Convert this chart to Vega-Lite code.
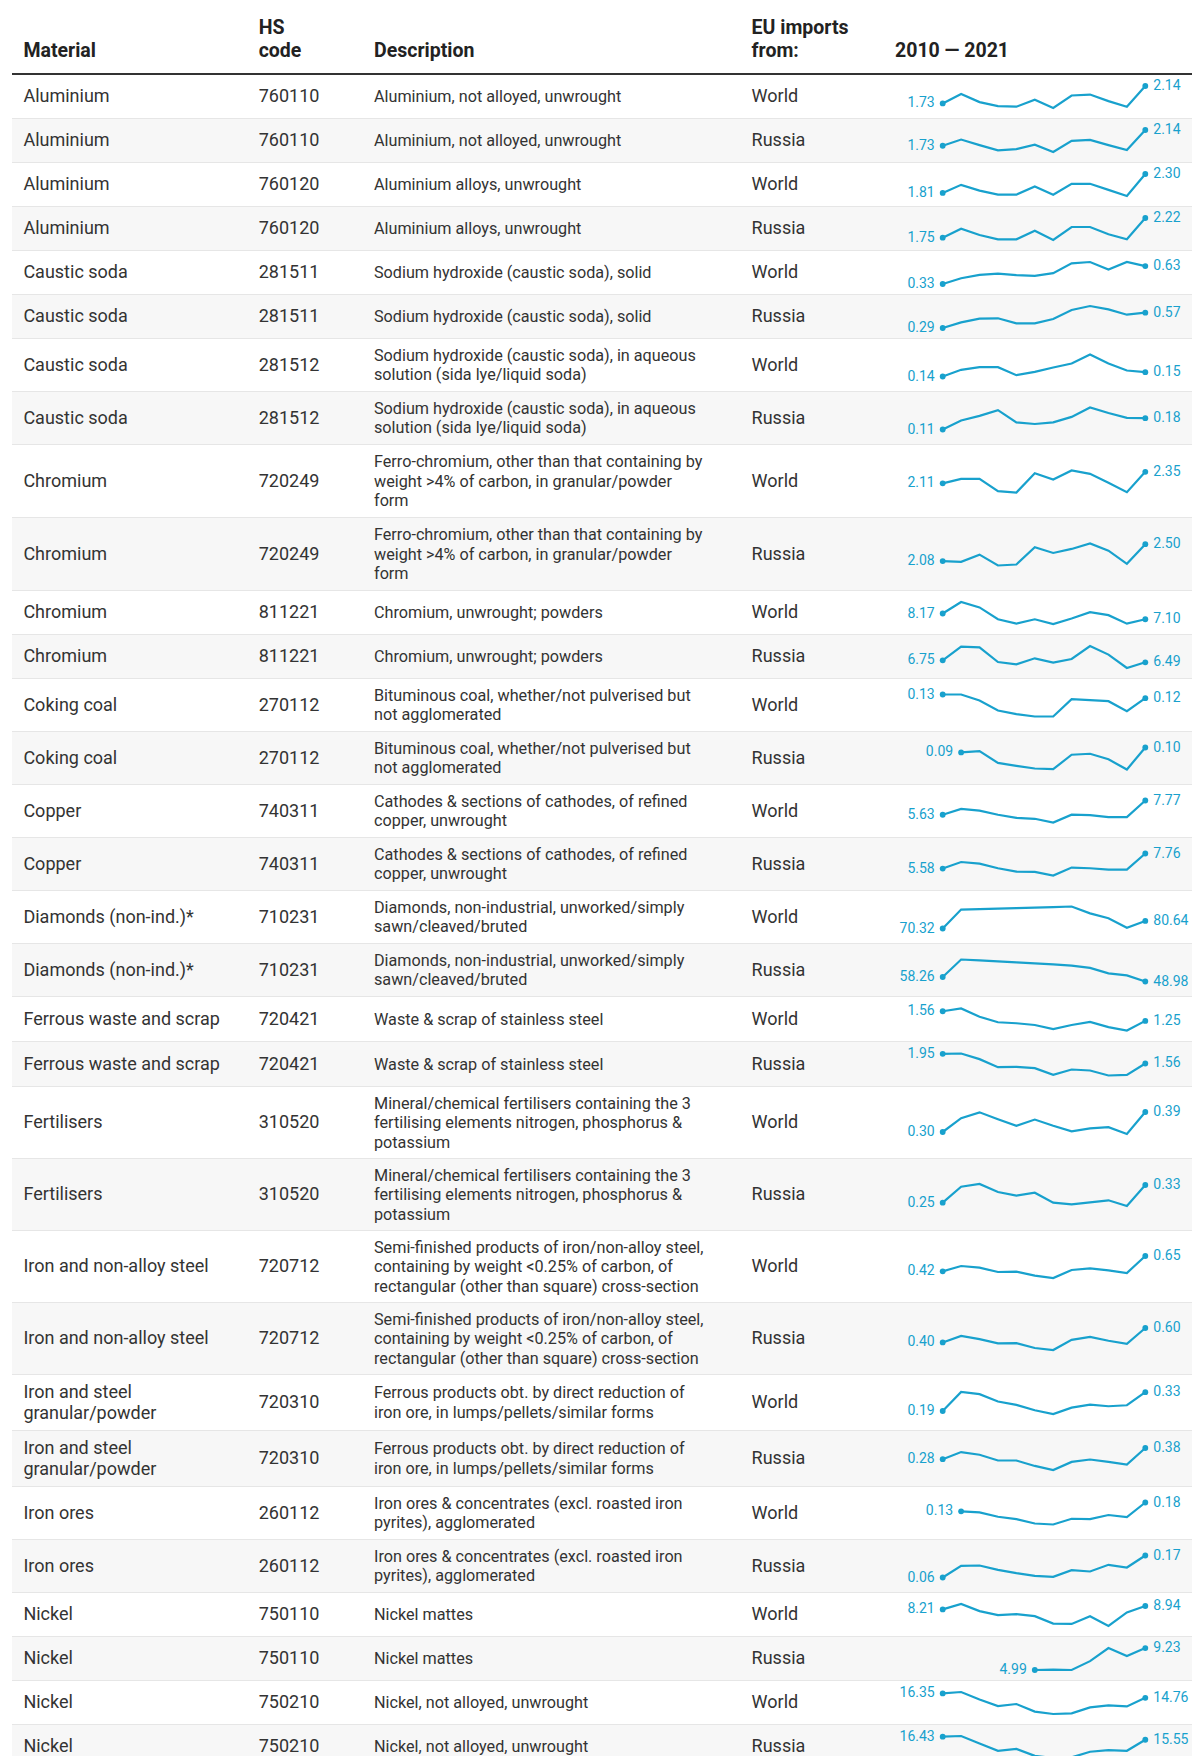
{"$schema":"https://vega.github.io/schema/vega-lite/v6.json","padding":{"left":11,"top":0,"right":0,"bottom":0},"background":"white","spacing":0,"resolve":{"scale":{"y":"independent"}},
"datasets":{"header":[{"c":0,"t":"\nMaterial"},{"c":1,"t":"HS\ncode"},{"c":2,"t":"\nDescription"},{"c":3,"t":"EU imports\nfrom:"},{"c":4,"t":"\n2010 — 2021"}],
"table":[
{"r":1,"material":"Aluminium","hs":"760110","desc":"Aluminium, not alloyed, unwrought","from":"World"},
{"r":2,"material":"Aluminium","hs":"760110","desc":"Aluminium, not alloyed, unwrought","from":"Russia"},
{"r":3,"material":"Aluminium","hs":"760120","desc":"Aluminium alloys, unwrought","from":"World"},
{"r":4,"material":"Aluminium","hs":"760120","desc":"Aluminium alloys, unwrought","from":"Russia"},
{"r":5,"material":"Caustic soda","hs":"281511","desc":"Sodium hydroxide (caustic soda), solid","from":"World"},
{"r":6,"material":"Caustic soda","hs":"281511","desc":"Sodium hydroxide (caustic soda), solid","from":"Russia"},
{"r":7,"material":"Caustic soda","hs":"281512","desc":"Sodium hydroxide (caustic soda), in aqueous\nsolution (sida lye/liquid soda)","from":"World"},
{"r":8,"material":"Caustic soda","hs":"281512","desc":"Sodium hydroxide (caustic soda), in aqueous\nsolution (sida lye/liquid soda)","from":"Russia"},
{"r":9,"material":"Chromium","hs":"720249","desc":"Ferro-chromium, other than that containing by\nweight >4% of carbon, in granular/powder\nform","from":"World"},
{"r":10,"material":"Chromium","hs":"720249","desc":"Ferro-chromium, other than that containing by\nweight >4% of carbon, in granular/powder\nform","from":"Russia"},
{"r":11,"material":"Chromium","hs":"811221","desc":"Chromium, unwrought; powders","from":"World"},
{"r":12,"material":"Chromium","hs":"811221","desc":"Chromium, unwrought; powders","from":"Russia"},
{"r":13,"material":"Coking coal","hs":"270112","desc":"Bituminous coal, whether/not pulverised but\nnot agglomerated","from":"World"},
{"r":14,"material":"Coking coal","hs":"270112","desc":"Bituminous coal, whether/not pulverised but\nnot agglomerated","from":"Russia"},
{"r":15,"material":"Copper","hs":"740311","desc":"Cathodes & sections of cathodes, of refined\ncopper, unwrought","from":"World"},
{"r":16,"material":"Copper","hs":"740311","desc":"Cathodes & sections of cathodes, of refined\ncopper, unwrought","from":"Russia"},
{"r":17,"material":"Diamonds (non-ind.)*","hs":"710231","desc":"Diamonds, non-industrial, unworked/simply\nsawn/cleaved/bruted","from":"World"},
{"r":18,"material":"Diamonds (non-ind.)*","hs":"710231","desc":"Diamonds, non-industrial, unworked/simply\nsawn/cleaved/bruted","from":"Russia"},
{"r":19,"material":"Ferrous waste and scrap","hs":"720421","desc":"Waste & scrap of stainless steel","from":"World"},
{"r":20,"material":"Ferrous waste and scrap","hs":"720421","desc":"Waste & scrap of stainless steel","from":"Russia"},
{"r":21,"material":"Fertilisers","hs":"310520","desc":"Mineral/chemical fertilisers containing the 3\nfertilising elements nitrogen, phosphorus &\npotassium","from":"World"},
{"r":22,"material":"Fertilisers","hs":"310520","desc":"Mineral/chemical fertilisers containing the 3\nfertilising elements nitrogen, phosphorus &\npotassium","from":"Russia"},
{"r":23,"material":"Iron and non-alloy steel","hs":"720712","desc":"Semi-finished products of iron/non-alloy steel,\ncontaining by weight <0.25% of carbon, of\nrectangular (other than square) cross-section","from":"World"},
{"r":24,"material":"Iron and non-alloy steel","hs":"720712","desc":"Semi-finished products of iron/non-alloy steel,\ncontaining by weight <0.25% of carbon, of\nrectangular (other than square) cross-section","from":"Russia"},
{"r":25,"material":"Iron and steel\ngranular/powder","hs":"720310","desc":"Ferrous products obt. by direct reduction of\niron ore, in lumps/pellets/similar forms","from":"World"},
{"r":26,"material":"Iron and steel\ngranular/powder","hs":"720310","desc":"Ferrous products obt. by direct reduction of\niron ore, in lumps/pellets/similar forms","from":"Russia"},
{"r":27,"material":"Iron ores","hs":"260112","desc":"Iron ores & concentrates (excl. roasted iron\npyrites), agglomerated","from":"World"},
{"r":28,"material":"Iron ores","hs":"260112","desc":"Iron ores & concentrates (excl. roasted iron\npyrites), agglomerated","from":"Russia"},
{"r":29,"material":"Nickel","hs":"750110","desc":"Nickel mattes","from":"World"},
{"r":30,"material":"Nickel","hs":"750110","desc":"Nickel mattes","from":"Russia"},
{"r":31,"material":"Nickel","hs":"750210","desc":"Nickel, not alloyed, unwrought","from":"World"},
{"r":32,"material":"Nickel","hs":"750210","desc":"Nickel, not alloyed, unwrought","from":"Russia"},
{"r":1,"year":2010,"v":1.73},{"r":1,"year":2011,"v":1.954},{"r":1,"year":2012,"v":1.761},{"r":1,"year":2013,"v":1.668},{"r":1,"year":2014,"v":1.653},{"r":1,"year":2015,"v":1.815},{"r":1,"year":2016,"v":1.622},{"r":1,"year":2017,"v":1.916},{"r":1,"year":2018,"v":1.939},{"r":1,"year":2019,"v":1.784},{"r":1,"year":2020,"v":1.653},{"r":1,"year":2021,"v":2.14},
{"r":2,"year":2010,"v":1.73},{"r":2,"year":2011,"v":1.892},{"r":2,"year":2012,"v":1.747},{"r":2,"year":2013,"v":1.61},{"r":2,"year":2014,"v":1.645},{"r":2,"year":2015,"v":1.756},{"r":2,"year":2016,"v":1.568},{"r":2,"year":2017,"v":1.858},{"r":2,"year":2018,"v":1.884},{"r":2,"year":2019,"v":1.747},{"r":2,"year":2020,"v":1.619},{"r":2,"year":2021,"v":2.14},
{"r":3,"year":2010,"v":1.81},{"r":3,"year":2011,"v":2.02},{"r":3,"year":2012,"v":1.871},{"r":3,"year":2013,"v":1.766},{"r":3,"year":2014,"v":1.766},{"r":3,"year":2015,"v":1.976},{"r":3,"year":2016,"v":1.766},{"r":3,"year":2017,"v":2.046},{"r":3,"year":2018,"v":2.046},{"r":3,"year":2019,"v":1.889},{"r":3,"year":2020,"v":1.731},{"r":3,"year":2021,"v":2.3},
{"r":4,"year":2010,"v":1.75},{"r":4,"year":2011,"v":1.965},{"r":4,"year":2012,"v":1.814},{"r":4,"year":2013,"v":1.71},{"r":4,"year":2014,"v":1.71},{"r":4,"year":2015,"v":1.917},{"r":4,"year":2016,"v":1.694},{"r":4,"year":2017,"v":2.005},{"r":4,"year":2018,"v":2.005},{"r":4,"year":2019,"v":1.83},{"r":4,"year":2020,"v":1.71},{"r":4,"year":2021,"v":2.22},
{"r":5,"year":2010,"v":0.33},{"r":5,"year":2011,"v":0.426},{"r":5,"year":2012,"v":0.483},{"r":5,"year":2013,"v":0.505},{"r":5,"year":2014,"v":0.477},{"r":5,"year":2015,"v":0.466},{"r":5,"year":2016,"v":0.511},{"r":5,"year":2017,"v":0.675},{"r":5,"year":2018,"v":0.698},{"r":5,"year":2019,"v":0.573},{"r":5,"year":2020,"v":0.698},{"r":5,"year":2021,"v":0.63},
{"r":6,"year":2010,"v":0.29},{"r":6,"year":2011,"v":0.393},{"r":6,"year":2012,"v":0.46},{"r":6,"year":2013,"v":0.467},{"r":6,"year":2014,"v":0.375},{"r":6,"year":2015,"v":0.375},{"r":6,"year":2016,"v":0.454},{"r":6,"year":2017,"v":0.619},{"r":6,"year":2018,"v":0.692},{"r":6,"year":2019,"v":0.631},{"r":6,"year":2020,"v":0.533},{"r":6,"year":2021,"v":0.57},
{"r":7,"year":2010,"v":0.14},{"r":7,"year":2011,"v":0.1567},{"r":7,"year":2012,"v":0.1633},{"r":7,"year":2013,"v":0.1633},{"r":7,"year":2014,"v":0.1433},{"r":7,"year":2015,"v":0.1517},{"r":7,"year":2016,"v":0.1625},{"r":7,"year":2017,"v":0.1725},{"r":7,"year":2018,"v":0.195},{"r":7,"year":2019,"v":0.1725},{"r":7,"year":2020,"v":0.155},{"r":7,"year":2021,"v":0.1508},
{"r":8,"year":2010,"v":0.11},{"r":8,"year":2011,"v":0.166},{"r":8,"year":2012,"v":0.194},{"r":8,"year":2013,"v":0.23},{"r":8,"year":2014,"v":0.154},{"r":8,"year":2015,"v":0.144},{"r":8,"year":2016,"v":0.154},{"r":8,"year":2017,"v":0.188},{"r":8,"year":2018,"v":0.246},{"r":8,"year":2019,"v":0.212},{"r":8,"year":2020,"v":0.182},{"r":8,"year":2021,"v":0.18},
{"r":9,"year":2010,"v":2.11},{"r":9,"year":2011,"v":2.202},{"r":9,"year":2012,"v":2.202},{"r":9,"year":2013,"v":1.948},{"r":9,"year":2014,"v":1.919},{"r":9,"year":2015,"v":2.322},{"r":9,"year":2016,"v":2.188},{"r":9,"year":2017,"v":2.378},{"r":9,"year":2018,"v":2.308},{"r":9,"year":2019,"v":2.124},{"r":9,"year":2020,"v":1.926},{"r":9,"year":2021,"v":2.35},
{"r":10,"year":2010,"v":2.08},{"r":10,"year":2011,"v":2.063},{"r":10,"year":2012,"v":2.24},{"r":10,"year":2013,"v":1.971},{"r":10,"year":2014,"v":1.996},{"r":10,"year":2015,"v":2.424},{"r":10,"year":2016,"v":2.282},{"r":10,"year":2017,"v":2.382},{"r":10,"year":2018,"v":2.517},{"r":10,"year":2019,"v":2.34},{"r":10,"year":2020,"v":2.013},{"r":10,"year":2021,"v":2.5},
{"r":11,"year":2010,"v":8.17},{"r":11,"year":2011,"v":10.31},{"r":11,"year":2012,"v":9.3},{"r":11,"year":2013,"v":7.1},{"r":11,"year":2014,"v":6.28},{"r":11,"year":2015,"v":7.1},{"r":11,"year":2016,"v":6.22},{"r":11,"year":2017,"v":7.23},{"r":11,"year":2018,"v":8.42},{"r":11,"year":2019,"v":7.86},{"r":11,"year":2020,"v":6.28},{"r":11,"year":2021,"v":7.1},
{"r":12,"year":2010,"v":6.75},{"r":12,"year":2011,"v":8.53},{"r":12,"year":2012,"v":8.44},{"r":12,"year":2013,"v":6.53},{"r":12,"year":2014,"v":6.23},{"r":12,"year":2015,"v":7.01},{"r":12,"year":2016,"v":6.45},{"r":12,"year":2017,"v":6.92},{"r":12,"year":2018,"v":8.61},{"r":12,"year":2019,"v":7.49},{"r":12,"year":2020,"v":5.75},{"r":12,"year":2021,"v":6.49},
{"r":13,"year":2010,"v":0.132},{"r":13,"year":2011,"v":0.132},{"r":13,"year":2012,"v":0.1156},{"r":13,"year":2013,"v":0.0884},{"r":13,"year":2014,"v":0.0784},{"r":13,"year":2015,"v":0.072},{"r":13,"year":2016,"v":0.072},{"r":13,"year":2017,"v":0.1193},{"r":13,"year":2018,"v":0.1165},{"r":13,"year":2019,"v":0.1138},{"r":13,"year":2020,"v":0.0865},{"r":13,"year":2021,"v":0.122},
{"r":14,"year":2011,"v":0.09},{"r":14,"year":2012,"v":0.0927},{"r":14,"year":2013,"v":0.0687},{"r":14,"year":2014,"v":0.0627},{"r":14,"year":2015,"v":0.0573},{"r":14,"year":2016,"v":0.056},{"r":14,"year":2017,"v":0.0853},{"r":14,"year":2018,"v":0.0873},{"r":14,"year":2019,"v":0.076},{"r":14,"year":2020,"v":0.0553},{"r":14,"year":2021,"v":0.1},
{"r":15,"year":2010,"v":5.63},{"r":15,"year":2011,"v":6.5},{"r":15,"year":2012,"v":6.24},{"r":15,"year":2013,"v":5.63},{"r":15,"year":2014,"v":5.17},{"r":15,"year":2015,"v":5.02},{"r":15,"year":2016,"v":4.46},{"r":15,"year":2017,"v":5.63},{"r":15,"year":2018,"v":5.58},{"r":15,"year":2019,"v":5.27},{"r":15,"year":2020,"v":5.27},{"r":15,"year":2021,"v":7.77},
{"r":16,"year":2010,"v":5.58},{"r":16,"year":2011,"v":6.53},{"r":16,"year":2012,"v":6.29},{"r":16,"year":2013,"v":5.63},{"r":16,"year":2014,"v":5.15},{"r":16,"year":2015,"v":5.11},{"r":16,"year":2016,"v":4.58},{"r":16,"year":2017,"v":5.72},{"r":16,"year":2018,"v":5.63},{"r":16,"year":2019,"v":5.44},{"r":16,"year":2020,"v":5.44},{"r":16,"year":2021,"v":7.76},
{"r":17,"year":2010,"v":70.32},{"r":17,"year":2011,"v":96.1},{"r":17,"year":2012,"v":96.6},{"r":17,"year":2013,"v":97.5},{"r":17,"year":2014,"v":98},{"r":17,"year":2015,"v":98.9},{"r":17,"year":2016,"v":99.4},{"r":17,"year":2017,"v":100.3},{"r":17,"year":2018,"v":90.96},{"r":17,"year":2019,"v":84.4},{"r":17,"year":2020,"v":71.26},{"r":17,"year":2021,"v":80.64},
{"r":18,"year":2010,"v":58.26},{"r":18,"year":2011,"v":94.06},{"r":18,"year":2012,"v":92.07},{"r":18,"year":2013,"v":90.08},{"r":18,"year":2014,"v":88.1},{"r":18,"year":2015,"v":86.1},{"r":18,"year":2016,"v":84.1},{"r":18,"year":2017,"v":81.5},{"r":18,"year":2018,"v":76.8},{"r":18,"year":2019,"v":65.6},{"r":18,"year":2020,"v":61.6},{"r":18,"year":2021,"v":48.98},
{"r":19,"year":2010,"v":1.56},{"r":19,"year":2011,"v":1.649},{"r":19,"year":2012,"v":1.383},{"r":19,"year":2013,"v":1.206},{"r":19,"year":2014,"v":1.173},{"r":19,"year":2015,"v":1.117},{"r":19,"year":2016,"v":0.984},{"r":19,"year":2017,"v":1.117},{"r":19,"year":2018,"v":1.217},{"r":19,"year":2019,"v":1.051},{"r":19,"year":2020,"v":0.94},{"r":19,"year":2021,"v":1.25},
{"r":20,"year":2010,"v":1.95},{"r":20,"year":2011,"v":1.963},{"r":20,"year":2012,"v":1.735},{"r":20,"year":2013,"v":1.412},{"r":20,"year":2014,"v":1.425},{"r":20,"year":2015,"v":1.372},{"r":20,"year":2016,"v":1.103},{"r":20,"year":2017,"v":1.318},{"r":20,"year":2018,"v":1.277},{"r":20,"year":2019,"v":1.076},{"r":20,"year":2020,"v":1.103},{"r":20,"year":2021,"v":1.56},
{"r":21,"year":2010,"v":0.3},{"r":21,"year":2011,"v":0.362},{"r":21,"year":2012,"v":0.3885},{"r":21,"year":2013,"v":0.3575},{"r":21,"year":2014,"v":0.328},{"r":21,"year":2015,"v":0.356},{"r":21,"year":2016,"v":0.328},{"r":21,"year":2017,"v":0.303},{"r":21,"year":2018,"v":0.316},{"r":21,"year":2019,"v":0.322},{"r":21,"year":2020,"v":0.291},{"r":21,"year":2021,"v":0.39},
{"r":22,"year":2010,"v":0.25},{"r":22,"year":2011,"v":0.3224},{"r":22,"year":2012,"v":0.3345},{"r":22,"year":2013,"v":0.2983},{"r":22,"year":2014,"v":0.2817},{"r":22,"year":2015,"v":0.2953},{"r":22,"year":2016,"v":0.25},{"r":22,"year":2017,"v":0.2425},{"r":22,"year":2018,"v":0.2515},{"r":22,"year":2019,"v":0.2606},{"r":22,"year":2020,"v":0.2349},{"r":22,"year":2021,"v":0.33},
{"r":23,"year":2010,"v":0.42},{"r":23,"year":2011,"v":0.5},{"r":23,"year":2012,"v":0.475},{"r":23,"year":2013,"v":0.41},{"r":23,"year":2014,"v":0.415},{"r":23,"year":2015,"v":0.355},{"r":23,"year":2016,"v":0.32},{"r":23,"year":2017,"v":0.44},{"r":23,"year":2018,"v":0.465},{"r":23,"year":2019,"v":0.435},{"r":23,"year":2020,"v":0.395},{"r":23,"year":2021,"v":0.65},
{"r":24,"year":2010,"v":0.4},{"r":24,"year":2011,"v":0.491},{"r":24,"year":2012,"v":0.4455},{"r":24,"year":2013,"v":0.386},{"r":24,"year":2014,"v":0.391},{"r":24,"year":2015,"v":0.323},{"r":24,"year":2016,"v":0.295},{"r":24,"year":2017,"v":0.436},{"r":24,"year":2018,"v":0.477},{"r":24,"year":2019,"v":0.423},{"r":24,"year":2020,"v":0.382},{"r":24,"year":2021,"v":0.6},
{"r":25,"year":2010,"v":0.19},{"r":25,"year":2011,"v":0.331},{"r":25,"year":2012,"v":0.315},{"r":25,"year":2013,"v":0.26},{"r":25,"year":2014,"v":0.235},{"r":25,"year":2015,"v":0.195},{"r":25,"year":2016,"v":0.1675},{"r":25,"year":2017,"v":0.215},{"r":25,"year":2018,"v":0.2375},{"r":25,"year":2019,"v":0.225},{"r":25,"year":2020,"v":0.2325},{"r":25,"year":2021,"v":0.33},
{"r":26,"year":2010,"v":0.28},{"r":26,"year":2011,"v":0.3436},{"r":26,"year":2012,"v":0.3194},{"r":26,"year":2013,"v":0.2679},{"r":26,"year":2014,"v":0.2679},{"r":26,"year":2015,"v":0.2194},{"r":26,"year":2016,"v":0.183},{"r":26,"year":2017,"v":0.2558},{"r":26,"year":2018,"v":0.277},{"r":26,"year":2019,"v":0.2558},{"r":26,"year":2020,"v":0.2315},{"r":26,"year":2021,"v":0.38},
{"r":27,"year":2011,"v":0.13},{"r":27,"year":2012,"v":0.1242},{"r":27,"year":2013,"v":0.0992},{"r":27,"year":2014,"v":0.0858},{"r":27,"year":2015,"v":0.0608},{"r":27,"year":2016,"v":0.055},{"r":27,"year":2017,"v":0.0877},{"r":27,"year":2018,"v":0.0858},{"r":27,"year":2019,"v":0.1088},{"r":27,"year":2020,"v":0.0973},{"r":27,"year":2021,"v":0.18},
{"r":28,"year":2010,"v":0.06},{"r":28,"year":2011,"v":0.1183},{"r":28,"year":2012,"v":0.12},{"r":28,"year":2013,"v":0.0983},{"r":28,"year":2014,"v":0.0817},{"r":28,"year":2015,"v":0.0683},{"r":28,"year":2016,"v":0.0633},{"r":28,"year":2017,"v":0.0967},{"r":28,"year":2018,"v":0.09},{"r":28,"year":2019,"v":0.1233},{"r":28,"year":2020,"v":0.11},{"r":28,"year":2021,"v":0.17},
{"r":29,"year":2010,"v":8.21},{"r":29,"year":2011,"v":9.378},{"r":29,"year":2012,"v":7.845},{"r":29,"year":2013,"v":6.969},{"r":29,"year":2014,"v":7.188},{"r":29,"year":2015,"v":6.75},{"r":29,"year":2016,"v":5.144},{"r":29,"year":2017,"v":5.071},{"r":29,"year":2018,"v":6.75},{"r":29,"year":2019,"v":4.633},{"r":29,"year":2020,"v":7.553},{"r":29,"year":2021,"v":8.94},
{"r":30,"year":2015,"v":4.99},{"r":30,"year":2016,"v":5.06},{"r":30,"year":2017,"v":4.99},{"r":30,"year":2018,"v":6.71},{"r":30,"year":2019,"v":9.25},{"r":30,"year":2020,"v":7.71},{"r":30,"year":2021,"v":9.23},
{"r":31,"year":2010,"v":16.35},{"r":31,"year":2011,"v":16.84},{"r":31,"year":2012,"v":14.15},{"r":31,"year":2013,"v":11.82},{"r":31,"year":2014,"v":12.56},{"r":31,"year":2015,"v":9.87},{"r":31,"year":2016,"v":9.01},{"r":31,"year":2017,"v":9.26},{"r":31,"year":2018,"v":11.34},{"r":31,"year":2019,"v":12.07},{"r":31,"year":2020,"v":11.7},{"r":31,"year":2021,"v":14.76},
{"r":32,"year":2010,"v":16.43},{"r":32,"year":2011,"v":16.61},{"r":32,"year":2012,"v":14.49},{"r":32,"year":2013,"v":12.47},{"r":32,"year":2014,"v":13},{"r":32,"year":2015,"v":11.06},{"r":32,"year":2016,"v":10.45},{"r":32,"year":2017,"v":10.62},{"r":32,"year":2018,"v":12.21},{"r":32,"year":2019,"v":12.65},{"r":32,"year":2020,"v":12.47},{"r":32,"year":2021,"v":15.55}
]},
"data":{"name":"table"},
"vconcat":[
{"data":{"name":"header"},"width":1181,"height":75,"layer":[
{"mark":{"type":"text","fontWeight":"bold","fontSize":19.5,"baseline":"bottom","lineHeight":23,"dy":0,"color":"#222222"},"encoding":{"x":{"field":"c","type":"quantitative","scale":{"domain":[0,1,2,3,4,2010,2021],"range":[11.4,246.7,362,739.6,883,930.7,1133.3],"nice":false,"zero":false},"axis":null},"text":{"field":"t"}}},
{"mark":{"type":"rule","color":"#333333","strokeWidth":2,"yOffset":-1},"encoding":{"y":{"value":"height"}}}
]},
{"transform":[{"filter":"datum.r>=1&&datum.r<=6"}],"facet":{"row":{"field":"r","type":"ordinal","header":null}},"spacing":0,"bounds":"flush","resolve":{"scale":{"y":"independent"}},"spec":{"width":1181,"height":44,"layer":[
{"transform":[{"filter":"isValid(datum.hs)"}],"layer":[
{"mark":{"type":"rect"},"encoding":{"color":{"field":"r","type":"ordinal","scale":{"domain":[1,2,3,4,5,6,7,8,9,10,11,12,13,14,15,16,17,18,19,20,21,22,23,24,25,26,27,28,29,30,31,32],"range":["#ffffff","#f7f7f7"]},"legend":null}}},
{"mark":{"type":"rule","color":"#e6e6e6","strokeWidth":1,"yOffset":-0.5},"encoding":{"y":{"value":"height"}}},
{"mark":{"type":"text","fontSize":18,"lineHeight":21},"encoding":{"x":{"datum":0,"type":"quantitative","scale":{"domain":[0,1,2,3,4,2010,2021],"range":[11.4,246.7,362,739.6,883,930.7,1133.3],"nice":false,"zero":false},"axis":null},"text":{"field":"material"}}},
{"mark":{"type":"text","fontSize":18},"encoding":{"x":{"datum":1,"type":"quantitative","scale":{"domain":[0,1,2,3,4,2010,2021],"range":[11.4,246.7,362,739.6,883,930.7,1133.3],"nice":false,"zero":false},"axis":null},"text":{"field":"hs"}}},
{"mark":{"type":"text","fontSize":16.2,"lineHeight":19.5},"encoding":{"x":{"datum":2,"type":"quantitative","scale":{"domain":[0,1,2,3,4,2010,2021],"range":[11.4,246.7,362,739.6,883,930.7,1133.3],"nice":false,"zero":false},"axis":null},"text":{"field":"desc"}}},
{"mark":{"type":"text","fontSize":18},"encoding":{"x":{"datum":3,"type":"quantitative","scale":{"domain":[0,1,2,3,4,2010,2021],"range":[11.4,246.7,362,739.6,883,930.7,1133.3],"nice":false,"zero":false},"axis":null},"text":{"field":"from"}}}
]},
{"transform":[{"filter":"isValid(datum.v)"},{"joinaggregate":[{"op":"min","field":"year","as":"y0"},{"op":"max","field":"year","as":"y1"}],"groupby":["r"]}],
"encoding":{"x":{"field":"year","type":"quantitative","scale":{"domain":[0,1,2,3,4,2010,2021],"range":[11.4,246.7,362,739.6,883,930.7,1133.3],"nice":false,"zero":false},"axis":null},"y":{"field":"v","type":"quantitative","scale":{"zero":false,"nice":false,"range":[33,11]},"axis":null}},
"layer":[
{"mark":{"type":"line","color":"#18a1cd","strokeWidth":2.2}},
{"transform":[{"filter":"datum.year==datum.y0||datum.year==datum.y1"}],"mark":{"type":"point","filled":true,"opacity":1,"size":34,"color":"#18a1cd"}},
{"transform":[{"filter":"datum.year==datum.y0"}],"mark":{"type":"text","align":"right","dx":-8,"fontSize":14,"color":"#18a1cd"},"encoding":{"text":{"field":"v","format":".2f"}}},
{"transform":[{"filter":"datum.year==datum.y1"}],"mark":{"type":"text","align":"left","dx":8,"fontSize":14,"color":"#18a1cd"},"encoding":{"text":{"field":"v","format":".2f"}}}
]}
]}},
{"transform":[{"filter":"datum.r>=7&&datum.r<=8"}],"facet":{"row":{"field":"r","type":"ordinal","header":null}},"spacing":0,"bounds":"flush","resolve":{"scale":{"y":"independent"}},"spec":{"width":1181,"height":53,"layer":[
{"transform":[{"filter":"isValid(datum.hs)"}],"layer":[
{"mark":{"type":"rect"},"encoding":{"color":{"field":"r","type":"ordinal","scale":{"domain":[1,2,3,4,5,6,7,8,9,10,11,12,13,14,15,16,17,18,19,20,21,22,23,24,25,26,27,28,29,30,31,32],"range":["#ffffff","#f7f7f7"]},"legend":null}}},
{"mark":{"type":"rule","color":"#e6e6e6","strokeWidth":1,"yOffset":-0.5},"encoding":{"y":{"value":"height"}}},
{"mark":{"type":"text","fontSize":18,"lineHeight":21},"encoding":{"x":{"datum":0,"type":"quantitative","scale":{"domain":[0,1,2,3,4,2010,2021],"range":[11.4,246.7,362,739.6,883,930.7,1133.3],"nice":false,"zero":false},"axis":null},"text":{"field":"material"}}},
{"mark":{"type":"text","fontSize":18},"encoding":{"x":{"datum":1,"type":"quantitative","scale":{"domain":[0,1,2,3,4,2010,2021],"range":[11.4,246.7,362,739.6,883,930.7,1133.3],"nice":false,"zero":false},"axis":null},"text":{"field":"hs"}}},
{"mark":{"type":"text","fontSize":16.2,"lineHeight":19.5,"dy":-9.75},"encoding":{"x":{"datum":2,"type":"quantitative","scale":{"domain":[0,1,2,3,4,2010,2021],"range":[11.4,246.7,362,739.6,883,930.7,1133.3],"nice":false,"zero":false},"axis":null},"text":{"field":"desc"}}},
{"mark":{"type":"text","fontSize":18},"encoding":{"x":{"datum":3,"type":"quantitative","scale":{"domain":[0,1,2,3,4,2010,2021],"range":[11.4,246.7,362,739.6,883,930.7,1133.3],"nice":false,"zero":false},"axis":null},"text":{"field":"from"}}}
]},
{"transform":[{"filter":"isValid(datum.v)"},{"joinaggregate":[{"op":"min","field":"year","as":"y0"},{"op":"max","field":"year","as":"y1"}],"groupby":["r"]}],
"encoding":{"x":{"field":"year","type":"quantitative","scale":{"domain":[0,1,2,3,4,2010,2021],"range":[11.4,246.7,362,739.6,883,930.7,1133.3],"nice":false,"zero":false},"axis":null},"y":{"field":"v","type":"quantitative","scale":{"zero":false,"nice":false,"range":[37.5,15.5]},"axis":null}},
"layer":[
{"mark":{"type":"line","color":"#18a1cd","strokeWidth":2.2}},
{"transform":[{"filter":"datum.year==datum.y0||datum.year==datum.y1"}],"mark":{"type":"point","filled":true,"opacity":1,"size":34,"color":"#18a1cd"}},
{"transform":[{"filter":"datum.year==datum.y0"}],"mark":{"type":"text","align":"right","dx":-8,"fontSize":14,"color":"#18a1cd"},"encoding":{"text":{"field":"v","format":".2f"}}},
{"transform":[{"filter":"datum.year==datum.y1"}],"mark":{"type":"text","align":"left","dx":8,"fontSize":14,"color":"#18a1cd"},"encoding":{"text":{"field":"v","format":".2f"}}}
]}
]}},
{"transform":[{"filter":"datum.r>=9&&datum.r<=10"}],"facet":{"row":{"field":"r","type":"ordinal","header":null}},"spacing":0,"bounds":"flush","resolve":{"scale":{"y":"independent"}},"spec":{"width":1181,"height":73,"layer":[
{"transform":[{"filter":"isValid(datum.hs)"}],"layer":[
{"mark":{"type":"rect"},"encoding":{"color":{"field":"r","type":"ordinal","scale":{"domain":[1,2,3,4,5,6,7,8,9,10,11,12,13,14,15,16,17,18,19,20,21,22,23,24,25,26,27,28,29,30,31,32],"range":["#ffffff","#f7f7f7"]},"legend":null}}},
{"mark":{"type":"rule","color":"#e6e6e6","strokeWidth":1,"yOffset":-0.5},"encoding":{"y":{"value":"height"}}},
{"mark":{"type":"text","fontSize":18,"lineHeight":21},"encoding":{"x":{"datum":0,"type":"quantitative","scale":{"domain":[0,1,2,3,4,2010,2021],"range":[11.4,246.7,362,739.6,883,930.7,1133.3],"nice":false,"zero":false},"axis":null},"text":{"field":"material"}}},
{"mark":{"type":"text","fontSize":18},"encoding":{"x":{"datum":1,"type":"quantitative","scale":{"domain":[0,1,2,3,4,2010,2021],"range":[11.4,246.7,362,739.6,883,930.7,1133.3],"nice":false,"zero":false},"axis":null},"text":{"field":"hs"}}},
{"mark":{"type":"text","fontSize":16.2,"lineHeight":19.5,"dy":-19.5},"encoding":{"x":{"datum":2,"type":"quantitative","scale":{"domain":[0,1,2,3,4,2010,2021],"range":[11.4,246.7,362,739.6,883,930.7,1133.3],"nice":false,"zero":false},"axis":null},"text":{"field":"desc"}}},
{"mark":{"type":"text","fontSize":18},"encoding":{"x":{"datum":3,"type":"quantitative","scale":{"domain":[0,1,2,3,4,2010,2021],"range":[11.4,246.7,362,739.6,883,930.7,1133.3],"nice":false,"zero":false},"axis":null},"text":{"field":"from"}}}
]},
{"transform":[{"filter":"isValid(datum.v)"},{"joinaggregate":[{"op":"min","field":"year","as":"y0"},{"op":"max","field":"year","as":"y1"}],"groupby":["r"]}],
"encoding":{"x":{"field":"year","type":"quantitative","scale":{"domain":[0,1,2,3,4,2010,2021],"range":[11.4,246.7,362,739.6,883,930.7,1133.3],"nice":false,"zero":false},"axis":null},"y":{"field":"v","type":"quantitative","scale":{"zero":false,"nice":false,"range":[47.5,25.5]},"axis":null}},
"layer":[
{"mark":{"type":"line","color":"#18a1cd","strokeWidth":2.2}},
{"transform":[{"filter":"datum.year==datum.y0||datum.year==datum.y1"}],"mark":{"type":"point","filled":true,"opacity":1,"size":34,"color":"#18a1cd"}},
{"transform":[{"filter":"datum.year==datum.y0"}],"mark":{"type":"text","align":"right","dx":-8,"fontSize":14,"color":"#18a1cd"},"encoding":{"text":{"field":"v","format":".2f"}}},
{"transform":[{"filter":"datum.year==datum.y1"}],"mark":{"type":"text","align":"left","dx":8,"fontSize":14,"color":"#18a1cd"},"encoding":{"text":{"field":"v","format":".2f"}}}
]}
]}},
{"transform":[{"filter":"datum.r>=11&&datum.r<=12"}],"facet":{"row":{"field":"r","type":"ordinal","header":null}},"spacing":0,"bounds":"flush","resolve":{"scale":{"y":"independent"}},"spec":{"width":1181,"height":44,"layer":[
{"transform":[{"filter":"isValid(datum.hs)"}],"layer":[
{"mark":{"type":"rect"},"encoding":{"color":{"field":"r","type":"ordinal","scale":{"domain":[1,2,3,4,5,6,7,8,9,10,11,12,13,14,15,16,17,18,19,20,21,22,23,24,25,26,27,28,29,30,31,32],"range":["#ffffff","#f7f7f7"]},"legend":null}}},
{"mark":{"type":"rule","color":"#e6e6e6","strokeWidth":1,"yOffset":-0.5},"encoding":{"y":{"value":"height"}}},
{"mark":{"type":"text","fontSize":18,"lineHeight":21},"encoding":{"x":{"datum":0,"type":"quantitative","scale":{"domain":[0,1,2,3,4,2010,2021],"range":[11.4,246.7,362,739.6,883,930.7,1133.3],"nice":false,"zero":false},"axis":null},"text":{"field":"material"}}},
{"mark":{"type":"text","fontSize":18},"encoding":{"x":{"datum":1,"type":"quantitative","scale":{"domain":[0,1,2,3,4,2010,2021],"range":[11.4,246.7,362,739.6,883,930.7,1133.3],"nice":false,"zero":false},"axis":null},"text":{"field":"hs"}}},
{"mark":{"type":"text","fontSize":16.2,"lineHeight":19.5},"encoding":{"x":{"datum":2,"type":"quantitative","scale":{"domain":[0,1,2,3,4,2010,2021],"range":[11.4,246.7,362,739.6,883,930.7,1133.3],"nice":false,"zero":false},"axis":null},"text":{"field":"desc"}}},
{"mark":{"type":"text","fontSize":18},"encoding":{"x":{"datum":3,"type":"quantitative","scale":{"domain":[0,1,2,3,4,2010,2021],"range":[11.4,246.7,362,739.6,883,930.7,1133.3],"nice":false,"zero":false},"axis":null},"text":{"field":"from"}}}
]},
{"transform":[{"filter":"isValid(datum.v)"},{"joinaggregate":[{"op":"min","field":"year","as":"y0"},{"op":"max","field":"year","as":"y1"}],"groupby":["r"]}],
"encoding":{"x":{"field":"year","type":"quantitative","scale":{"domain":[0,1,2,3,4,2010,2021],"range":[11.4,246.7,362,739.6,883,930.7,1133.3],"nice":false,"zero":false},"axis":null},"y":{"field":"v","type":"quantitative","scale":{"zero":false,"nice":false,"range":[33,11]},"axis":null}},
"layer":[
{"mark":{"type":"line","color":"#18a1cd","strokeWidth":2.2}},
{"transform":[{"filter":"datum.year==datum.y0||datum.year==datum.y1"}],"mark":{"type":"point","filled":true,"opacity":1,"size":34,"color":"#18a1cd"}},
{"transform":[{"filter":"datum.year==datum.y0"}],"mark":{"type":"text","align":"right","dx":-8,"fontSize":14,"color":"#18a1cd"},"encoding":{"text":{"field":"v","format":".2f"}}},
{"transform":[{"filter":"datum.year==datum.y1"}],"mark":{"type":"text","align":"left","dx":8,"fontSize":14,"color":"#18a1cd"},"encoding":{"text":{"field":"v","format":".2f"}}}
]}
]}},
{"transform":[{"filter":"datum.r>=13&&datum.r<=18"}],"facet":{"row":{"field":"r","type":"ordinal","header":null}},"spacing":0,"bounds":"flush","resolve":{"scale":{"y":"independent"}},"spec":{"width":1181,"height":53,"layer":[
{"transform":[{"filter":"isValid(datum.hs)"}],"layer":[
{"mark":{"type":"rect"},"encoding":{"color":{"field":"r","type":"ordinal","scale":{"domain":[1,2,3,4,5,6,7,8,9,10,11,12,13,14,15,16,17,18,19,20,21,22,23,24,25,26,27,28,29,30,31,32],"range":["#ffffff","#f7f7f7"]},"legend":null}}},
{"mark":{"type":"rule","color":"#e6e6e6","strokeWidth":1,"yOffset":-0.5},"encoding":{"y":{"value":"height"}}},
{"mark":{"type":"text","fontSize":18,"lineHeight":21},"encoding":{"x":{"datum":0,"type":"quantitative","scale":{"domain":[0,1,2,3,4,2010,2021],"range":[11.4,246.7,362,739.6,883,930.7,1133.3],"nice":false,"zero":false},"axis":null},"text":{"field":"material"}}},
{"mark":{"type":"text","fontSize":18},"encoding":{"x":{"datum":1,"type":"quantitative","scale":{"domain":[0,1,2,3,4,2010,2021],"range":[11.4,246.7,362,739.6,883,930.7,1133.3],"nice":false,"zero":false},"axis":null},"text":{"field":"hs"}}},
{"mark":{"type":"text","fontSize":16.2,"lineHeight":19.5,"dy":-9.75},"encoding":{"x":{"datum":2,"type":"quantitative","scale":{"domain":[0,1,2,3,4,2010,2021],"range":[11.4,246.7,362,739.6,883,930.7,1133.3],"nice":false,"zero":false},"axis":null},"text":{"field":"desc"}}},
{"mark":{"type":"text","fontSize":18},"encoding":{"x":{"datum":3,"type":"quantitative","scale":{"domain":[0,1,2,3,4,2010,2021],"range":[11.4,246.7,362,739.6,883,930.7,1133.3],"nice":false,"zero":false},"axis":null},"text":{"field":"from"}}}
]},
{"transform":[{"filter":"isValid(datum.v)"},{"joinaggregate":[{"op":"min","field":"year","as":"y0"},{"op":"max","field":"year","as":"y1"}],"groupby":["r"]}],
"encoding":{"x":{"field":"year","type":"quantitative","scale":{"domain":[0,1,2,3,4,2010,2021],"range":[11.4,246.7,362,739.6,883,930.7,1133.3],"nice":false,"zero":false},"axis":null},"y":{"field":"v","type":"quantitative","scale":{"zero":false,"nice":false,"range":[37.5,15.5]},"axis":null}},
"layer":[
{"mark":{"type":"line","color":"#18a1cd","strokeWidth":2.2}},
{"transform":[{"filter":"datum.year==datum.y0||datum.year==datum.y1"}],"mark":{"type":"point","filled":true,"opacity":1,"size":34,"color":"#18a1cd"}},
{"transform":[{"filter":"datum.year==datum.y0"}],"mark":{"type":"text","align":"right","dx":-8,"fontSize":14,"color":"#18a1cd"},"encoding":{"text":{"field":"v","format":".2f"}}},
{"transform":[{"filter":"datum.year==datum.y1"}],"mark":{"type":"text","align":"left","dx":8,"fontSize":14,"color":"#18a1cd"},"encoding":{"text":{"field":"v","format":".2f"}}}
]}
]}},
{"transform":[{"filter":"datum.r>=19&&datum.r<=20"}],"facet":{"row":{"field":"r","type":"ordinal","header":null}},"spacing":0,"bounds":"flush","resolve":{"scale":{"y":"independent"}},"spec":{"width":1181,"height":45,"layer":[
{"transform":[{"filter":"isValid(datum.hs)"}],"layer":[
{"mark":{"type":"rect"},"encoding":{"color":{"field":"r","type":"ordinal","scale":{"domain":[1,2,3,4,5,6,7,8,9,10,11,12,13,14,15,16,17,18,19,20,21,22,23,24,25,26,27,28,29,30,31,32],"range":["#ffffff","#f7f7f7"]},"legend":null}}},
{"mark":{"type":"rule","color":"#e6e6e6","strokeWidth":1,"yOffset":-0.5},"encoding":{"y":{"value":"height"}}},
{"mark":{"type":"text","fontSize":18,"lineHeight":21},"encoding":{"x":{"datum":0,"type":"quantitative","scale":{"domain":[0,1,2,3,4,2010,2021],"range":[11.4,246.7,362,739.6,883,930.7,1133.3],"nice":false,"zero":false},"axis":null},"text":{"field":"material"}}},
{"mark":{"type":"text","fontSize":18},"encoding":{"x":{"datum":1,"type":"quantitative","scale":{"domain":[0,1,2,3,4,2010,2021],"range":[11.4,246.7,362,739.6,883,930.7,1133.3],"nice":false,"zero":false},"axis":null},"text":{"field":"hs"}}},
{"mark":{"type":"text","fontSize":16.2,"lineHeight":19.5},"encoding":{"x":{"datum":2,"type":"quantitative","scale":{"domain":[0,1,2,3,4,2010,2021],"range":[11.4,246.7,362,739.6,883,930.7,1133.3],"nice":false,"zero":false},"axis":null},"text":{"field":"desc"}}},
{"mark":{"type":"text","fontSize":18},"encoding":{"x":{"datum":3,"type":"quantitative","scale":{"domain":[0,1,2,3,4,2010,2021],"range":[11.4,246.7,362,739.6,883,930.7,1133.3],"nice":false,"zero":false},"axis":null},"text":{"field":"from"}}}
]},
{"transform":[{"filter":"isValid(datum.v)"},{"joinaggregate":[{"op":"min","field":"year","as":"y0"},{"op":"max","field":"year","as":"y1"}],"groupby":["r"]}],
"encoding":{"x":{"field":"year","type":"quantitative","scale":{"domain":[0,1,2,3,4,2010,2021],"range":[11.4,246.7,362,739.6,883,930.7,1133.3],"nice":false,"zero":false},"axis":null},"y":{"field":"v","type":"quantitative","scale":{"zero":false,"nice":false,"range":[33.5,11.5]},"axis":null}},
"layer":[
{"mark":{"type":"line","color":"#18a1cd","strokeWidth":2.2}},
{"transform":[{"filter":"datum.year==datum.y0||datum.year==datum.y1"}],"mark":{"type":"point","filled":true,"opacity":1,"size":34,"color":"#18a1cd"}},
{"transform":[{"filter":"datum.year==datum.y0"}],"mark":{"type":"text","align":"right","dx":-8,"fontSize":14,"color":"#18a1cd"},"encoding":{"text":{"field":"v","format":".2f"}}},
{"transform":[{"filter":"datum.year==datum.y1"}],"mark":{"type":"text","align":"left","dx":8,"fontSize":14,"color":"#18a1cd"},"encoding":{"text":{"field":"v","format":".2f"}}}
]}
]}},
{"transform":[{"filter":"datum.r>=21&&datum.r<=24"}],"facet":{"row":{"field":"r","type":"ordinal","header":null}},"spacing":0,"bounds":"flush","resolve":{"scale":{"y":"independent"}},"spec":{"width":1181,"height":72,"layer":[
{"transform":[{"filter":"isValid(datum.hs)"}],"layer":[
{"mark":{"type":"rect"},"encoding":{"color":{"field":"r","type":"ordinal","scale":{"domain":[1,2,3,4,5,6,7,8,9,10,11,12,13,14,15,16,17,18,19,20,21,22,23,24,25,26,27,28,29,30,31,32],"range":["#ffffff","#f7f7f7"]},"legend":null}}},
{"mark":{"type":"rule","color":"#e6e6e6","strokeWidth":1,"yOffset":-0.5},"encoding":{"y":{"value":"height"}}},
{"mark":{"type":"text","fontSize":18,"lineHeight":21},"encoding":{"x":{"datum":0,"type":"quantitative","scale":{"domain":[0,1,2,3,4,2010,2021],"range":[11.4,246.7,362,739.6,883,930.7,1133.3],"nice":false,"zero":false},"axis":null},"text":{"field":"material"}}},
{"mark":{"type":"text","fontSize":18},"encoding":{"x":{"datum":1,"type":"quantitative","scale":{"domain":[0,1,2,3,4,2010,2021],"range":[11.4,246.7,362,739.6,883,930.7,1133.3],"nice":false,"zero":false},"axis":null},"text":{"field":"hs"}}},
{"mark":{"type":"text","fontSize":16.2,"lineHeight":19.5,"dy":-19.5},"encoding":{"x":{"datum":2,"type":"quantitative","scale":{"domain":[0,1,2,3,4,2010,2021],"range":[11.4,246.7,362,739.6,883,930.7,1133.3],"nice":false,"zero":false},"axis":null},"text":{"field":"desc"}}},
{"mark":{"type":"text","fontSize":18},"encoding":{"x":{"datum":3,"type":"quantitative","scale":{"domain":[0,1,2,3,4,2010,2021],"range":[11.4,246.7,362,739.6,883,930.7,1133.3],"nice":false,"zero":false},"axis":null},"text":{"field":"from"}}}
]},
{"transform":[{"filter":"isValid(datum.v)"},{"joinaggregate":[{"op":"min","field":"year","as":"y0"},{"op":"max","field":"year","as":"y1"}],"groupby":["r"]}],
"encoding":{"x":{"field":"year","type":"quantitative","scale":{"domain":[0,1,2,3,4,2010,2021],"range":[11.4,246.7,362,739.6,883,930.7,1133.3],"nice":false,"zero":false},"axis":null},"y":{"field":"v","type":"quantitative","scale":{"zero":false,"nice":false,"range":[47,25]},"axis":null}},
"layer":[
{"mark":{"type":"line","color":"#18a1cd","strokeWidth":2.2}},
{"transform":[{"filter":"datum.year==datum.y0||datum.year==datum.y1"}],"mark":{"type":"point","filled":true,"opacity":1,"size":34,"color":"#18a1cd"}},
{"transform":[{"filter":"datum.year==datum.y0"}],"mark":{"type":"text","align":"right","dx":-8,"fontSize":14,"color":"#18a1cd"},"encoding":{"text":{"field":"v","format":".2f"}}},
{"transform":[{"filter":"datum.year==datum.y1"}],"mark":{"type":"text","align":"left","dx":8,"fontSize":14,"color":"#18a1cd"},"encoding":{"text":{"field":"v","format":".2f"}}}
]}
]}},
{"transform":[{"filter":"datum.r>=25&&datum.r<=26"}],"facet":{"row":{"field":"r","type":"ordinal","header":null}},"spacing":0,"bounds":"flush","resolve":{"scale":{"y":"independent"}},"spec":{"width":1181,"height":56,"layer":[
{"transform":[{"filter":"isValid(datum.hs)"}],"layer":[
{"mark":{"type":"rect"},"encoding":{"color":{"field":"r","type":"ordinal","scale":{"domain":[1,2,3,4,5,6,7,8,9,10,11,12,13,14,15,16,17,18,19,20,21,22,23,24,25,26,27,28,29,30,31,32],"range":["#ffffff","#f7f7f7"]},"legend":null}}},
{"mark":{"type":"rule","color":"#e6e6e6","strokeWidth":1,"yOffset":-0.5},"encoding":{"y":{"value":"height"}}},
{"mark":{"type":"text","fontSize":18,"lineHeight":21,"dy":-10.5},"encoding":{"x":{"datum":0,"type":"quantitative","scale":{"domain":[0,1,2,3,4,2010,2021],"range":[11.4,246.7,362,739.6,883,930.7,1133.3],"nice":false,"zero":false},"axis":null},"text":{"field":"material"}}},
{"mark":{"type":"text","fontSize":18},"encoding":{"x":{"datum":1,"type":"quantitative","scale":{"domain":[0,1,2,3,4,2010,2021],"range":[11.4,246.7,362,739.6,883,930.7,1133.3],"nice":false,"zero":false},"axis":null},"text":{"field":"hs"}}},
{"mark":{"type":"text","fontSize":16.2,"lineHeight":19.5,"dy":-9.75},"encoding":{"x":{"datum":2,"type":"quantitative","scale":{"domain":[0,1,2,3,4,2010,2021],"range":[11.4,246.7,362,739.6,883,930.7,1133.3],"nice":false,"zero":false},"axis":null},"text":{"field":"desc"}}},
{"mark":{"type":"text","fontSize":18},"encoding":{"x":{"datum":3,"type":"quantitative","scale":{"domain":[0,1,2,3,4,2010,2021],"range":[11.4,246.7,362,739.6,883,930.7,1133.3],"nice":false,"zero":false},"axis":null},"text":{"field":"from"}}}
]},
{"transform":[{"filter":"isValid(datum.v)"},{"joinaggregate":[{"op":"min","field":"year","as":"y0"},{"op":"max","field":"year","as":"y1"}],"groupby":["r"]}],
"encoding":{"x":{"field":"year","type":"quantitative","scale":{"domain":[0,1,2,3,4,2010,2021],"range":[11.4,246.7,362,739.6,883,930.7,1133.3],"nice":false,"zero":false},"axis":null},"y":{"field":"v","type":"quantitative","scale":{"zero":false,"nice":false,"range":[39,17]},"axis":null}},
"layer":[
{"mark":{"type":"line","color":"#18a1cd","strokeWidth":2.2}},
{"transform":[{"filter":"datum.year==datum.y0||datum.year==datum.y1"}],"mark":{"type":"point","filled":true,"opacity":1,"size":34,"color":"#18a1cd"}},
{"transform":[{"filter":"datum.year==datum.y0"}],"mark":{"type":"text","align":"right","dx":-8,"fontSize":14,"color":"#18a1cd"},"encoding":{"text":{"field":"v","format":".2f"}}},
{"transform":[{"filter":"datum.year==datum.y1"}],"mark":{"type":"text","align":"left","dx":8,"fontSize":14,"color":"#18a1cd"},"encoding":{"text":{"field":"v","format":".2f"}}}
]}
]}},
{"transform":[{"filter":"datum.r>=27&&datum.r<=28"}],"facet":{"row":{"field":"r","type":"ordinal","header":null}},"spacing":0,"bounds":"flush","resolve":{"scale":{"y":"independent"}},"spec":{"width":1181,"height":53,"layer":[
{"transform":[{"filter":"isValid(datum.hs)"}],"layer":[
{"mark":{"type":"rect"},"encoding":{"color":{"field":"r","type":"ordinal","scale":{"domain":[1,2,3,4,5,6,7,8,9,10,11,12,13,14,15,16,17,18,19,20,21,22,23,24,25,26,27,28,29,30,31,32],"range":["#ffffff","#f7f7f7"]},"legend":null}}},
{"mark":{"type":"rule","color":"#e6e6e6","strokeWidth":1,"yOffset":-0.5},"encoding":{"y":{"value":"height"}}},
{"mark":{"type":"text","fontSize":18,"lineHeight":21},"encoding":{"x":{"datum":0,"type":"quantitative","scale":{"domain":[0,1,2,3,4,2010,2021],"range":[11.4,246.7,362,739.6,883,930.7,1133.3],"nice":false,"zero":false},"axis":null},"text":{"field":"material"}}},
{"mark":{"type":"text","fontSize":18},"encoding":{"x":{"datum":1,"type":"quantitative","scale":{"domain":[0,1,2,3,4,2010,2021],"range":[11.4,246.7,362,739.6,883,930.7,1133.3],"nice":false,"zero":false},"axis":null},"text":{"field":"hs"}}},
{"mark":{"type":"text","fontSize":16.2,"lineHeight":19.5,"dy":-9.75},"encoding":{"x":{"datum":2,"type":"quantitative","scale":{"domain":[0,1,2,3,4,2010,2021],"range":[11.4,246.7,362,739.6,883,930.7,1133.3],"nice":false,"zero":false},"axis":null},"text":{"field":"desc"}}},
{"mark":{"type":"text","fontSize":18},"encoding":{"x":{"datum":3,"type":"quantitative","scale":{"domain":[0,1,2,3,4,2010,2021],"range":[11.4,246.7,362,739.6,883,930.7,1133.3],"nice":false,"zero":false},"axis":null},"text":{"field":"from"}}}
]},
{"transform":[{"filter":"isValid(datum.v)"},{"joinaggregate":[{"op":"min","field":"year","as":"y0"},{"op":"max","field":"year","as":"y1"}],"groupby":["r"]}],
"encoding":{"x":{"field":"year","type":"quantitative","scale":{"domain":[0,1,2,3,4,2010,2021],"range":[11.4,246.7,362,739.6,883,930.7,1133.3],"nice":false,"zero":false},"axis":null},"y":{"field":"v","type":"quantitative","scale":{"zero":false,"nice":false,"range":[37.5,15.5]},"axis":null}},
"layer":[
{"mark":{"type":"line","color":"#18a1cd","strokeWidth":2.2}},
{"transform":[{"filter":"datum.year==datum.y0||datum.year==datum.y1"}],"mark":{"type":"point","filled":true,"opacity":1,"size":34,"color":"#18a1cd"}},
{"transform":[{"filter":"datum.year==datum.y0"}],"mark":{"type":"text","align":"right","dx":-8,"fontSize":14,"color":"#18a1cd"},"encoding":{"text":{"field":"v","format":".2f"}}},
{"transform":[{"filter":"datum.year==datum.y1"}],"mark":{"type":"text","align":"left","dx":8,"fontSize":14,"color":"#18a1cd"},"encoding":{"text":{"field":"v","format":".2f"}}}
]}
]}},
{"transform":[{"filter":"datum.r>=29&&datum.r<=32"}],"facet":{"row":{"field":"r","type":"ordinal","header":null}},"spacing":0,"bounds":"flush","resolve":{"scale":{"y":"independent"}},"spec":{"width":1181,"height":44,"layer":[
{"transform":[{"filter":"isValid(datum.hs)"}],"layer":[
{"mark":{"type":"rect"},"encoding":{"color":{"field":"r","type":"ordinal","scale":{"domain":[1,2,3,4,5,6,7,8,9,10,11,12,13,14,15,16,17,18,19,20,21,22,23,24,25,26,27,28,29,30,31,32],"range":["#ffffff","#f7f7f7"]},"legend":null}}},
{"mark":{"type":"rule","color":"#e6e6e6","strokeWidth":1,"yOffset":-0.5},"encoding":{"y":{"value":"height"}}},
{"mark":{"type":"text","fontSize":18,"lineHeight":21},"encoding":{"x":{"datum":0,"type":"quantitative","scale":{"domain":[0,1,2,3,4,2010,2021],"range":[11.4,246.7,362,739.6,883,930.7,1133.3],"nice":false,"zero":false},"axis":null},"text":{"field":"material"}}},
{"mark":{"type":"text","fontSize":18},"encoding":{"x":{"datum":1,"type":"quantitative","scale":{"domain":[0,1,2,3,4,2010,2021],"range":[11.4,246.7,362,739.6,883,930.7,1133.3],"nice":false,"zero":false},"axis":null},"text":{"field":"hs"}}},
{"mark":{"type":"text","fontSize":16.2,"lineHeight":19.5},"encoding":{"x":{"datum":2,"type":"quantitative","scale":{"domain":[0,1,2,3,4,2010,2021],"range":[11.4,246.7,362,739.6,883,930.7,1133.3],"nice":false,"zero":false},"axis":null},"text":{"field":"desc"}}},
{"mark":{"type":"text","fontSize":18},"encoding":{"x":{"datum":3,"type":"quantitative","scale":{"domain":[0,1,2,3,4,2010,2021],"range":[11.4,246.7,362,739.6,883,930.7,1133.3],"nice":false,"zero":false},"axis":null},"text":{"field":"from"}}}
]},
{"transform":[{"filter":"isValid(datum.v)"},{"joinaggregate":[{"op":"min","field":"year","as":"y0"},{"op":"max","field":"year","as":"y1"}],"groupby":["r"]}],
"encoding":{"x":{"field":"year","type":"quantitative","scale":{"domain":[0,1,2,3,4,2010,2021],"range":[11.4,246.7,362,739.6,883,930.7,1133.3],"nice":false,"zero":false},"axis":null},"y":{"field":"v","type":"quantitative","scale":{"zero":false,"nice":false,"range":[33,11]},"axis":null}},
"layer":[
{"mark":{"type":"line","color":"#18a1cd","strokeWidth":2.2}},
{"transform":[{"filter":"datum.year==datum.y0||datum.year==datum.y1"}],"mark":{"type":"point","filled":true,"opacity":1,"size":34,"color":"#18a1cd"}},
{"transform":[{"filter":"datum.year==datum.y0"}],"mark":{"type":"text","align":"right","dx":-8,"fontSize":14,"color":"#18a1cd"},"encoding":{"text":{"field":"v","format":".2f"}}},
{"transform":[{"filter":"datum.year==datum.y1"}],"mark":{"type":"text","align":"left","dx":8,"fontSize":14,"color":"#18a1cd"},"encoding":{"text":{"field":"v","format":".2f"}}}
]}
]}}
],
"config":{"view":{"stroke":null},"font":"Roboto","text":{"font":"Roboto","color":"#333333","align":"left","baseline":"middle","lineBreak":"\n"}}}
